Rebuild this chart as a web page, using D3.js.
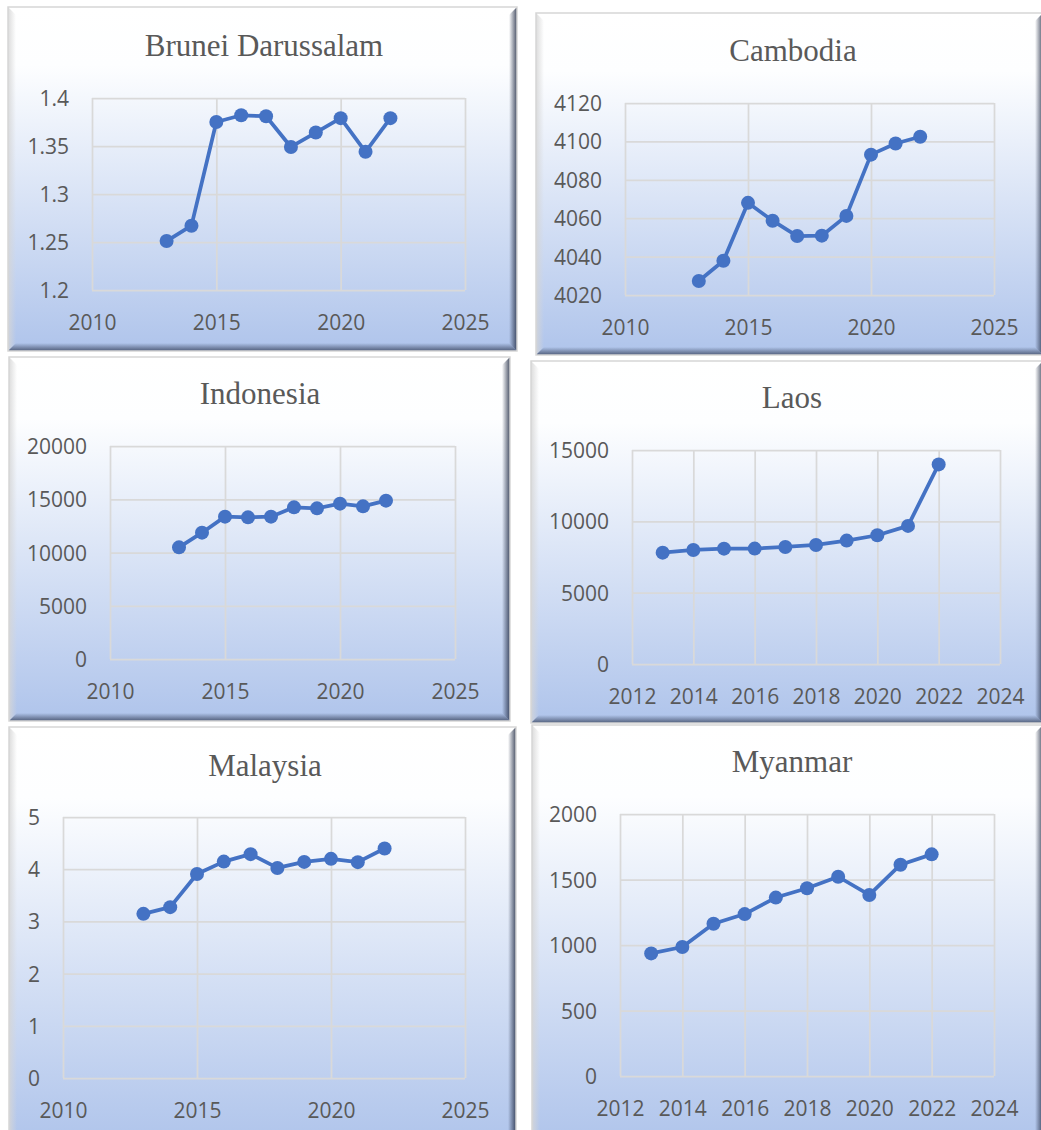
<!DOCTYPE html>
<html>
<head>
<meta charset="utf-8">
<script src="https://cdn.jsdelivr.net/npm/d3@7/dist/d3.min.js"></script>
<style>
  body { margin: 0; background: #fff; }
  svg { display: block; }
</style>
</head>
<body>
<svg id="chart" width="1041" height="1130"></svg>
<script>
// data
const years = [2013, 2014, 2015, 2016, 2017, 2018, 2019, 2020, 2021, 2022];
const countries = ["Brunei Darussalam", "Cambodia", "Indonesia", "Laos", "Malaysia", "Myanmar"];

const bruneiValues = [1.251, 1.267, 1.375, 1.382, 1.381, 1.349, 1.364, 1.379, 1.344, 1.379];
const cambodiaValues = [4027.3, 4037.8, 4068, 4058.7, 4050.7, 4050.9, 4061.2, 4093.1, 4098.9, 4102.4];
const indonesiaValues = [10485, 11862, 13365, 13302, 13365, 14241, 14147, 14585, 14335, 14867];
const laosValues = [7805, 7992, 8086, 8090, 8203, 8344, 8648, 9023, 9680, 13992];
const malaysiaValues = [3.145, 3.273, 3.909, 4.146, 4.288, 4.024, 4.14, 4.198, 4.135, 4.397];
const myanmarValues = [936, 985, 1162, 1236, 1362, 1433, 1521, 1382, 1613, 1692];

const xTicksFive = [2010, 2015, 2020, 2025];
const xTicksTwo = [2012, 2014, 2016, 2018, 2020, 2022, 2024];

const yTicksBrunei = [1.2, 1.25, 1.3, 1.35, 1.4];
const yTicksCambodia = [4020, 4040, 4060, 4080, 4100, 4120];
const yTicksIndonesia = [0, 5000, 10000, 15000, 20000];
const yTicksLaos = [0, 5000, 10000, 15000];
const yTicksMalaysia = [0, 1, 2, 3, 4, 5];
const yTicksMyanmar = [0, 500, 1000, 1500, 2000];

const seriesList = [bruneiValues, cambodiaValues, indonesiaValues, laosValues, malaysiaValues, myanmarValues];
const xTickList = [xTicksFive, xTicksFive, xTicksFive, xTicksTwo, xTicksFive, xTicksTwo];
const yTickList = [yTicksBrunei, yTicksCambodia, yTicksIndonesia, yTicksLaos, yTicksMalaysia, yTicksMyanmar];

// layout of the six panels: outer box, plot area, title anchor
const layout = [
  { box: [8, 7, 517, 351],    plot: [92, 98, 465, 290],   title: [264, 56] },
  { box: [536, 13, 1043, 355], plot: [625, 103, 994, 295], title: [793, 61] },
  { box: [9, 357, 510, 721],   plot: [110, 446, 455, 659], title: [260, 404] },
  { box: [531, 361, 1043, 723], plot: [632, 450, 1000, 664], title: [792, 408] },
  { box: [9, 727, 516, 1145],  plot: [63, 817, 465, 1078], title: [265, 776] },
  { box: [532, 725, 1043, 1145], plot: [620, 814, 994, 1076], title: [792, 772] }
];

const lineColor = "#4472C4";
const textColor = "#595959";
const gridColor = "#d9d9d9";
const bevel = 8;

const svg = d3.select("#chart");
const defs = svg.append("defs");

// panel background: white on top fading to light blue
const bg = defs.append("linearGradient").attr("id", "panelBg")
  .attr("x1", 0).attr("y1", 0).attr("x2", 0).attr("y2", 1);
bg.append("stop").attr("offset", "0%").attr("stop-color", "#ffffff");
bg.append("stop").attr("offset", "17%").attr("stop-color", "#fdfeff");
bg.append("stop").attr("offset", "100%").attr("stop-color", "#afc4eb");

function edgeGradient(id, x1, y1, x2, y2, color, op) {
  const g = defs.append("linearGradient").attr("id", id)
    .attr("x1", x1).attr("y1", y1).attr("x2", x2).attr("y2", y2);
  g.append("stop").attr("offset", "0%").attr("stop-color", color).attr("stop-opacity", op);
  g.append("stop").attr("offset", "100%").attr("stop-color", color).attr("stop-opacity", 0);
}
edgeGradient("bevTop", 0, 0, 0, 1, "#ffffff", 0.9);
edgeGradient("bevLeft", 0, 0, 1, 0, "#d6d6d6", 0.85);
edgeGradient("bevRight", 1, 0, 0, 0, "#28324a", 0.85);
edgeGradient("bevBottom", 0, 1, 0, 0, "#28324a", 0.7);

const line = d3.line();

countries.forEach(function (name, i) {
  const L = layout[i];
  const [x0, y0, x1, y1] = L.box;
  const [pl, pt, pr, pb] = L.plot;
  const xTicks = xTickList[i];
  const yTicks = yTickList[i];
  const g = svg.append("g");

  // panel with bevel
  g.append("rect")
    .attr("x", x0).attr("y", y0)
    .attr("width", x1 - x0).attr("height", y1 - y0)
    .attr("fill", "url(#panelBg)");

  const b = bevel;
  const pts = {
    bevTop: [[x0, y0], [x1, y0], [x1 - b, y0 + b], [x0 + b, y0 + b]],
    bevLeft: [[x0, y0], [x0 + b, y0 + b], [x0 + b, y1 - b], [x0, y1]],
    bevRight: [[x1, y0], [x1, y1], [x1 - b, y1 - b], [x1 - b, y0 + b]],
    bevBottom: [[x0, y1], [x1, y1], [x1 - b, y1 - b], [x0 + b, y1 - b]]
  };
  Object.keys(pts).forEach(function (k) {
    g.append("polygon")
      .attr("points", pts[k].map(p => p.join(",")).join(" "))
      .attr("fill", "url(#" + k + ")");
  });

  g.append("rect")
    .attr("x", x0).attr("y", y0)
    .attr("width", x1 - x0).attr("height", y1 - y0)
    .attr("fill", "none")
    .attr("stroke", "#d6d6d6")
    .attr("stroke-width", 1.5);

  // scales
  const x = d3.scaleLinear()
    .domain([xTicks[0], xTicks[xTicks.length - 1]])
    .range([pl, pr]);
  const y = d3.scaleLinear()
    .domain([yTicks[0], yTicks[yTicks.length - 1]])
    .range([pb, pt]);

  // gridlines
  const xAxis = d3.axisBottom(x).tickValues(xTicks).tickSize(-(pb - pt)).tickFormat(d => d);
  const yAxis = d3.axisLeft(y).tickValues(yTicks).tickSize(-(pr - pl)).tickFormat(d => String(d));

  const gx = g.append("g").attr("transform", "translate(0," + pb + ")").call(xAxis);
  const gy = g.append("g").attr("transform", "translate(" + pl + ",0)").call(yAxis);

  [gx, gy].forEach(function (ax) {
    ax.select(".domain").remove();
    ax.selectAll(".tick line")
      .attr("stroke", gridColor)
      .attr("stroke-width", 1.75);
    ax.selectAll(".tick text")
      .attr("fill", textColor)
      .attr("font-family", "'Open Sans', sans-serif")
      .attr("font-size", 21);
  });
  gx.selectAll(".tick text").attr("y", 40).attr("dy", 0);
  gy.selectAll(".tick text").attr("x", -23).attr("dy", "0.36em");

  // title
  g.append("text")
    .attr("x", L.title[0]).attr("y", L.title[1])
    .attr("text-anchor", "middle")
    .attr("font-family", "'Liberation Serif', 'Times New Roman', serif")
    .attr("font-size", 31)
    .attr("fill", textColor)
    .text(name);

  // series
  const vals = seriesList[i];
  const pointsXY = years.map((yr, j) => [x(yr), y(vals[j])]);

  g.append("path")
    .attr("d", line(pointsXY))
    .attr("fill", "none")
    .attr("stroke", lineColor)
    .attr("stroke-width", 3.75)
    .attr("stroke-linejoin", "round");

  g.selectAll("circle.pt")
    .data(pointsXY)
    .enter()
    .append("circle")
    .attr("class", "pt")
    .attr("cx", d => d[0])
    .attr("cy", d => d[1])
    .attr("r", 7)
    .attr("fill", lineColor);
});
</script>
</body>
</html>
